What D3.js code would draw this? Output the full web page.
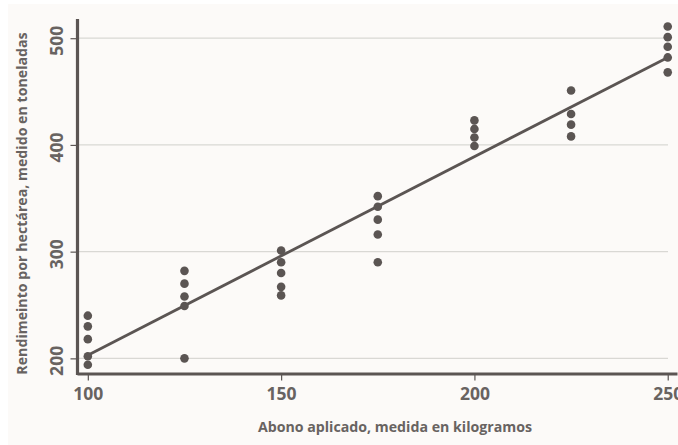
<!DOCTYPE html>
<html>
<head>
<meta charset="utf-8">
<script src="https://cdn.jsdelivr.net/npm/d3@7"></script>
<style>
  body { margin: 0; background: #ffffff; }
  svg text { font-family: "Open Sans", sans-serif; font-weight: 700; fill: #686361; }
</style>
</head>
<body>
<div id="chart"></div>
<script>
var w = 678,
    h = 445;

// abono (kg) por punto, y rendimiento (t)
var abono = [100, 100, 100, 100, 100,
             125, 125, 125, 125, 125,
             150, 150, 150, 150, 150,
             175, 175, 175, 175, 175,
             200, 200, 200, 200,
             225, 225, 225, 225,
             250, 250, 250, 250, 250];
var rendimiento = [240, 230, 218, 202, 194,
                   282, 270, 258, 249, 200,
                   301, 290, 280, 267, 259,
                   352, 342, 330, 316, 290,
                   423, 415, 407, 399,
                   451, 429, 419, 408,
                   511, 501, 492, 482, 468];

// recta de ajuste (extremos)
var lineaX = [100, 250];
var lineaY = [203, 482];

var xTicks = [100, 150, 200, 250];
var yTicks = [200, 300, 400, 500];

var xTitle = "Abono aplicado, medida en kilogramos";
var yTitle = "Rendimeinto por hectárea, medido en toneladas";

var dark = "#5b5553";

var svg = d3.select("#chart")
    .append("svg")
    .attr("width", w)
    .attr("height", h);

svg.append("rect")
    .attr("x", 8).attr("y", 4)
    .attr("width", w - 8).attr("height", h - 4)
    .style("fill", "#fcfaf8");

var x = d3.scaleLinear().domain([97.2, 252.4]).range([77, 677]),
    y = d3.scaleLinear().domain([186, 518]).range([373.3, 19]);

// gridlines
svg.append("g")
    .selectAll("line")
    .data(yTicks)
    .enter()
    .append("line")
    .attr("x1", 79)
    .attr("x2", 668)
    .attr("y1", function (d) { return y(d); })
    .attr("y2", function (d) { return y(d); })
    .style("stroke", "#d9d8d4")
    .style("stroke-width", 1.2);

var xAxis = d3.axisBottom(x)
    .tickValues(xTicks)
    .tickSizeInner(7)
    .tickSizeOuter(0)
    .tickPadding(7);

var yAxis = d3.axisLeft(y)
    .tickValues(yTicks)
    .tickSizeInner(7)
    .tickSizeOuter(0);

var gx = svg.append("g")
    .attr("transform", "translate(0," + 373.5 + ")")
    .call(xAxis);
gx.select(".domain").style("stroke", dark).style("stroke-width", 3.2);
gx.selectAll(".tick line").style("stroke", dark).style("stroke-width", 1.2);
gx.selectAll(".tick text")
    .style("font-size", "17.5px")
    .style("font-family", "'Open Sans', sans-serif")
    .style("font-weight", 700)
    .style("fill", "#686361");

var gy = svg.append("g")
    .attr("transform", "translate(" + 77.5 + ",0)")
    .call(yAxis);
gy.select(".domain").style("stroke", dark).style("stroke-width", 3.2)
    .attr("d", "M0," + y(518) + "V" + (y(186) + 1.6));
gy.selectAll(".tick line").style("stroke", dark).style("stroke-width", 1.2);
gy.selectAll(".tick text")
    .attr("x", null)
    .attr("dy", null)
    .attr("transform", "translate(-15,2) rotate(-90)")
    .attr("text-anchor", "middle")
    .style("font-size", "17.5px")
    .style("font-family", "'Open Sans', sans-serif")
    .style("font-weight", 700)
    .style("fill", "#686361");

// regression line
svg.append("line")
    .attr("x1", x(lineaX[0]))
    .attr("y1", y(lineaY[0]))
    .attr("x2", x(lineaX[1]))
    .attr("y2", y(lineaY[1]))
    .style("stroke", dark)
    .style("stroke-width", 2.8);

// points
svg.append("g")
    .selectAll("circle")
    .data(abono)
    .enter()
    .append("circle")
    .attr("cx", function (d) { return x(d); })
    .attr("cy", function (d, i) { return y(rendimiento[i]); })
    .attr("r", 4.3)
    .style("fill", dark);

// titles
svg.append("text")
    .attr("x", 395)
    .attr("y", 431.5)
    .attr("text-anchor", "middle")
    .style("font-size", "14.2px")
    .text(xTitle);

svg.append("text")
    .attr("transform", "translate(26.5,203.5) rotate(-90)")
    .attr("text-anchor", "middle")
    .style("font-size", "14.2px")
    .text(yTitle);
</script>
</body>
</html>
